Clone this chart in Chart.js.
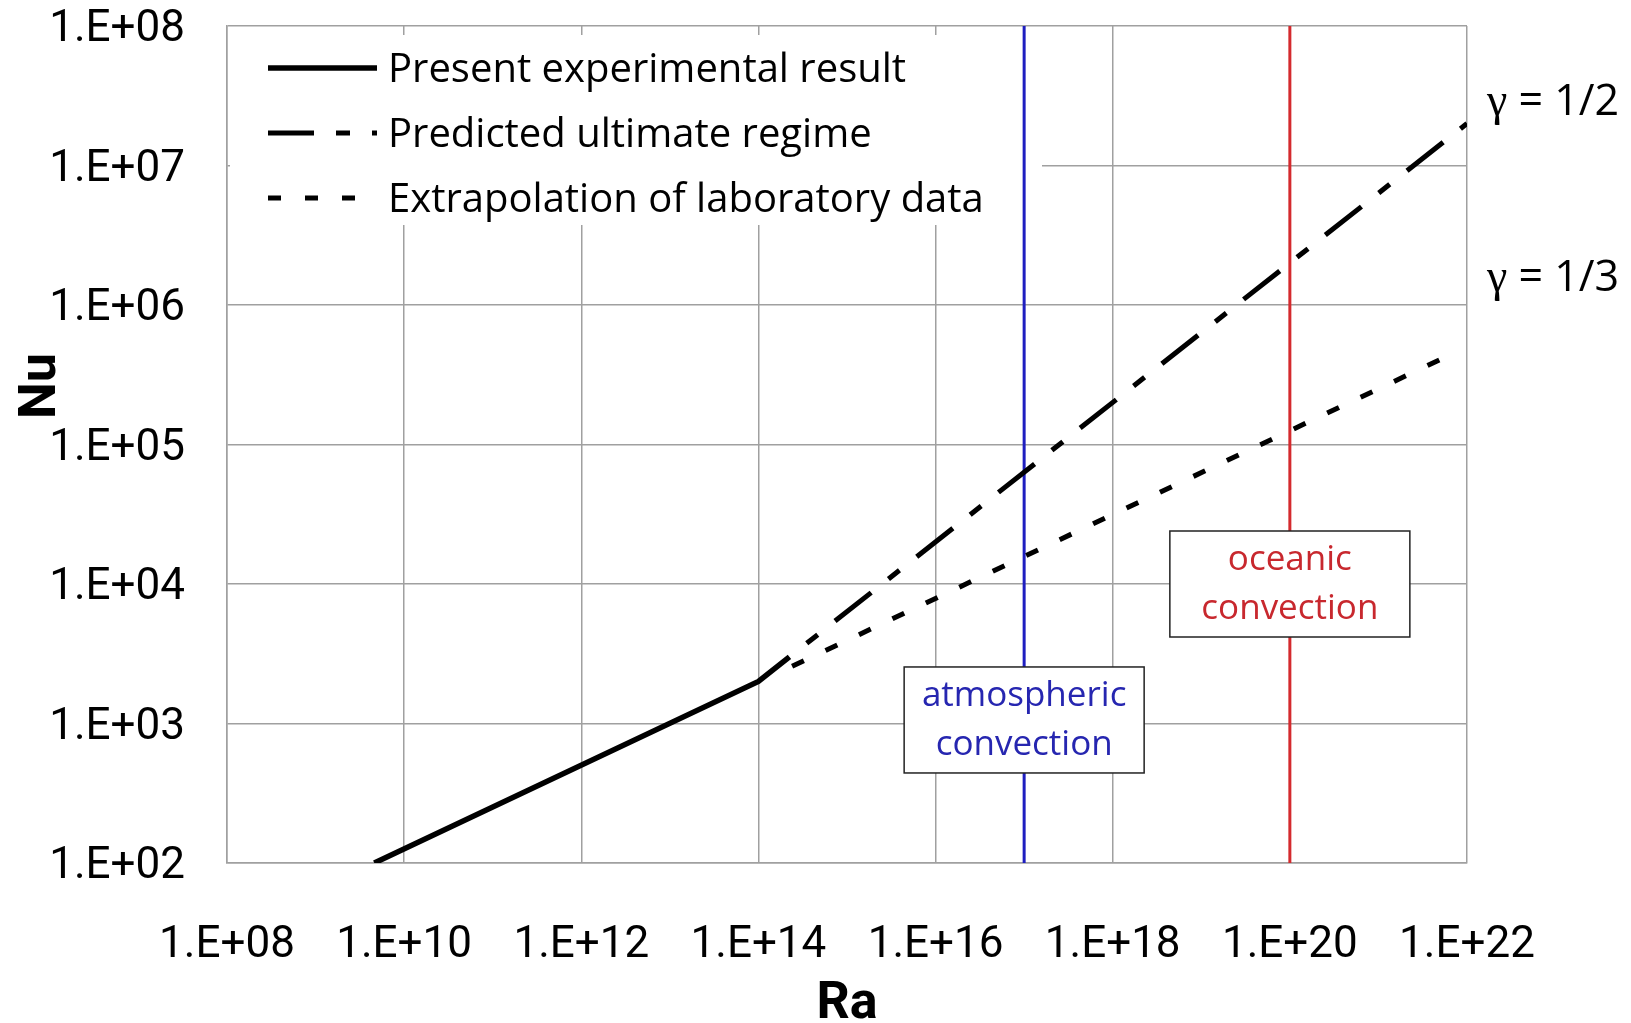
<!DOCTYPE html>
<html>
<head>
  <meta charset="UTF-8">
  <title>Nu vs Ra</title>
  <script src="https://cdn.jsdelivr.net/npm/chart.js"></script>
  <style>
    html, body {
      margin: 0;
      padding: 0;
      background: #fff;
    }
    #wrap {
      width: 1631px;
      height: 1023px;
    }
  </style>
</head>
<body>
  <div id="wrap">
    <canvas id="nuChart"></canvas>
  </div>

  <script>
    // axis ticks
    const raTicks = [1e8, 1e10, 1e12, 1e14, 1e16, 1e18, 1e20, 1e22];
    const raTickLabels = ['1.E+08', '1.E+10', '1.E+12', '1.E+14', '1.E+16', '1.E+18', '1.E+20', '1.E+22'];
    const nuTicks = [1e2, 1e3, 1e4, 1e5, 1e6, 1e7, 1e8];
    const nuTickLabels = ['1.E+02', '1.E+03', '1.E+04', '1.E+05', '1.E+06', '1.E+07', '1.E+08'];

    // curves
    const raPresent = [4.6e9, 1e14, 2.24e14];
    const nuPresent = [100, 2000, 3000];
    const raUltimate = [2.24e14, 1e22];
    const nuUltimate = [3000, 2e7];
    const raLab = [2.4e14, 6.5e21];
    const nuLab = [2570, 4.4e5];

    // convection regimes
    const raAtmospheric = [1e17, 1e17];
    const raOceanic = [1e20, 1e20];
    const nuSpan = [1e2, 1e8];

    const seriesLabels = ['Present experimental result', 'Predicted ultimate regime', 'Extrapolation of laboratory data'];

    const regimeNotes = [
      { lines: ['atmospheric', 'convection'], ra: 1e17, nu: 1.06e3, color: '#2626b0' },
      { lines: ['oceanic', 'convection'], ra: 1e20, nu: 1e4, color: '#c8282e' }
    ];
    const slopeNotes = [
      { text: '1/2', nu: 2.8e7 },
      { text: '1/3', nu: 1.55e6 }
    ];

    const pts = (xs, ys) => xs.map((x, i) => ({ x: x, y: ys[i] }));

    const SANS = "'Open Sans', 'Noto Sans', sans-serif";
    const AXIS = "Roboto, 'DejaVu Sans Condensed', sans-serif";

    const overlay = {
      id: 'overlay',
      beforeDatasetsDraw(chart) {
        const ctx = chart.ctx;
        const area = chart.chartArea;
        ctx.save();
        // legend panel covers the grid in the upper left
        ctx.fillStyle = '#fff';
        ctx.fillRect(area.left + 3, area.top + 9, 812, 190);

        ctx.font = '40px ' + SANS;
        ctx.textBaseline = 'middle';
        ctx.fillStyle = '#000';
        const rowY = [71, 136, 201];
        for (let i = 0; i < 3; i++) {
          const ds = chart.data.datasets[i];
          ctx.beginPath();
          ctx.lineWidth = ds.borderWidth;
          ctx.strokeStyle = ds.borderColor;
          ctx.setLineDash(ds.borderDash || []);
          ctx.moveTo(268, rowY[i] - 3);
          ctx.lineTo(377, rowY[i] - 3);
          ctx.stroke();
          ctx.setLineDash([]);
          ctx.fillText(ds.label, 388, rowY[i]);
        }
        ctx.restore();
      },
      afterDatasetsDraw(chart) {
        const ctx = chart.ctx;
        const xs = chart.scales.x;
        const ys = chart.scales.y;
        ctx.save();

        // regime boxes
        regimeNotes.forEach(n => {
          const cx = xs.getPixelForValue(n.ra);
          const cy = ys.getPixelForValue(n.nu);
          const w = 240, h = 106;
          ctx.fillStyle = '#fff';
          ctx.fillRect(cx - w / 2, cy - h / 2, w, h);
          ctx.lineWidth = 1.5;
          ctx.strokeStyle = '#222';
          ctx.strokeRect(cx - w / 2, cy - h / 2, w, h);
          ctx.fillStyle = n.color;
          ctx.font = '35px ' + SANS;
          ctx.textAlign = 'center';
          ctx.textBaseline = 'middle';
          ctx.fillText(n.lines[0], cx, cy - 24);
          ctx.fillText(n.lines[1], cx, cy + 25);
        });

        // slope labels to the right of the plot
        ctx.textAlign = 'left';
        ctx.textBaseline = 'middle';
        ctx.fillStyle = '#000';
        slopeNotes.forEach(n => {
          const x0 = xs.right + 20;
          const y0 = ys.getPixelForValue(n.nu);
          ctx.font = '46px "Liberation Serif", serif';
          ctx.fillText('\u03b3', x0, y0);
          const gw = ctx.measureText('\u03b3').width;
          ctx.font = '43px ' + SANS;
          ctx.fillText(' = ' + n.text, x0 + gw, y0);
        });

        // y axis title
        ctx.translate(42, 386);
        ctx.rotate(-Math.PI / 2);
        ctx.font = 'bold 52px ' + AXIS;
        ctx.textAlign = 'center';
        ctx.fillText('Nu', 0, 0);
        ctx.restore();
      }
    };

    const gridStyle = {
      color: '#a0a0a0',
      lineWidth: 1.5,
      drawTicks: false
    };

    new Chart(document.getElementById('nuChart'), {
      type: 'scatter',
      data: {
        datasets: [{
          label: seriesLabels[0],
          data: pts(raPresent, nuPresent),
          borderColor: '#000',
          borderWidth: 5.5,
          showLine: true,
          pointRadius: 0
        }, {
          label: seriesLabels[1],
          data: pts(raUltimate, nuUltimate),
          borderColor: '#000',
          borderWidth: 5,
          borderDash: [46, 22, 14, 22],
          borderDashOffset: 46,
          showLine: true,
          pointRadius: 0
        }, {
          label: seriesLabels[2],
          data: pts(raLab, nuLab),
          borderColor: '#000',
          borderWidth: 5,
          borderDash: [13, 24],
          showLine: true,
          pointRadius: 0
        }, {
          label: 'atmospheric',
          data: pts(raAtmospheric, nuSpan),
          borderColor: '#1e1ec0',
          borderWidth: 3,
          showLine: true,
          pointRadius: 0
        }, {
          label: 'oceanic',
          data: pts(raOceanic, nuSpan),
          borderColor: '#d42a2e',
          borderWidth: 3,
          showLine: true,
          pointRadius: 0
        }]
      },
      options: {
        responsive: true,
        maintainAspectRatio: false,
        animation: false,
        layout: {
          padding: { top: 26, right: 164, left: 0, bottom: 0 }
        },
        plugins: {
          legend: { display: false },
          tooltip: { enabled: false }
        },
        scales: {
          x: {
            type: 'logarithmic',
            min: 1e8,
            max: 1e22,
            afterBuildTicks: s => { s.ticks = raTicks.map(v => ({ value: v })); },
            afterFit: s => {
              s.height = 160;
              s.paddingLeft = 0;
              s.paddingRight = 0;
            },
            grid: gridStyle,
            border: { color: '#a0a0a0', width: 1.5 },
            ticks: {
              autoSkip: false,
              maxRotation: 0,
              padding: 61,
              color: '#000',
              font: { family: AXIS, size: 44, lineHeight: 1 },
              callback: (v, i) => raTickLabels[i]
            },
            title: {
              display: true,
              text: 'Ra',
              color: '#000',
              padding: 0,
              font: { family: AXIS, size: 52, weight: 'bold', lineHeight: 0.7 }
            }
          },
          y: {
            type: 'logarithmic',
            min: 1e2,
            max: 1e8,
            afterBuildTicks: s => { s.ticks = nuTicks.map(v => ({ value: v })); },
            afterFit: s => {
              s.width = 227;
              s.paddingTop = 0;
              s.paddingBottom = 0;
            },
            grid: gridStyle,
            border: { color: '#a0a0a0', width: 1.5 },
            ticks: {
              padding: 42,
              labelOffset: 4,
              color: '#000',
              font: { family: AXIS, size: 44, lineHeight: 1 },
              callback: (v, i) => nuTickLabels[i]
            }
          }
        }
      },
      plugins: [overlay]
    });
  </script>
</body>
</html>
